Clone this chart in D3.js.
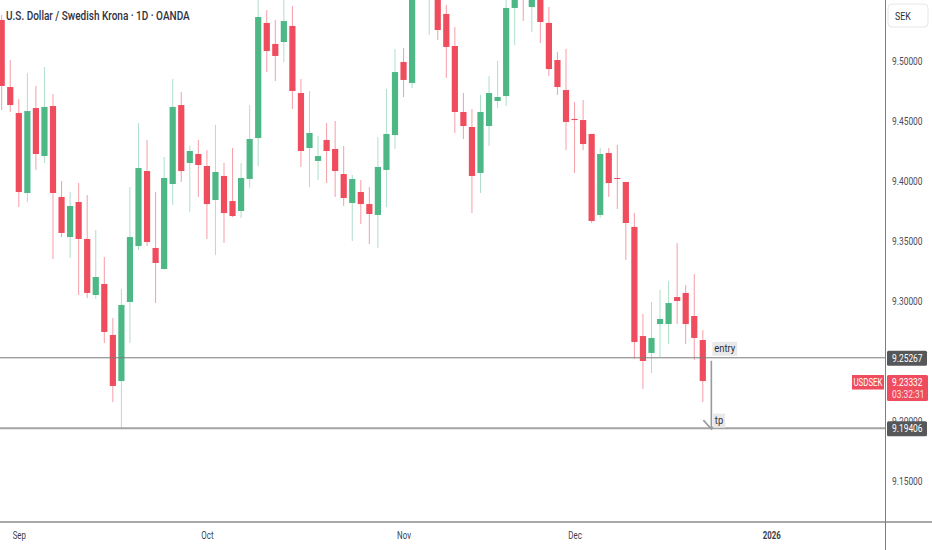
<!DOCTYPE html>
<html>
<head>
<meta charset="utf-8">
<script src="https://cdn.jsdelivr.net/npm/d3@7"></script>
<style>
  html, body { margin: 0; padding: 0; background: #fff; }
  svg { display: block; font-family: Roboto, "Noto Sans", sans-serif; }
</style>
</head>
<body>
<svg id="chart" width="932" height="550"></svg>
<script>
// USDSEK daily, OANDA - weekdays from 28 Aug to 22 Dec 2025
var firstDay = "2025-08-28";
var lastDay = "2025-12-22";

var openP = [
  9.5342, 9.4783, 9.4567, 9.3900, 9.4608, 9.4208, 9.4625, 9.3867, 9.3533, 9.3825,
  9.3517, 9.3050, 9.3142, 9.2717, 9.2333, 9.2992, 9.3458, 9.4083, 9.3442, 9.3267,
  9.3975, 9.4633, 9.4150, 9.4225, 9.4125, 9.3842, 9.4042, 9.3833, 9.3750, 9.4017,
  9.4358, 9.5317, 9.5142, 9.5158, 9.5292, 9.4733, 9.4275, 9.4167, 9.4342, 9.4267,
  9.4058, 9.3817, 9.3908, 9.3808, 9.3717, 9.4092, 9.4383, 9.4992, 9.4817, 9.5592,
  9.5550, 9.5575, 9.5392, 9.5125, 9.4575, 9.4450, 9.4067, 9.4458, 9.4667, 9.4708,
  9.5442, 9.5675, 9.5450, 9.5533, 9.5317, 9.5008, 9.4758, 9.4517, 9.4508, 9.4392,
  9.3717, 9.4233, 9.4025, 9.3992, 9.3617, 9.2708, 9.2567, 9.2808, 9.2808, 9.3033,
  9.3067, 9.2875, 9.2675
];
var highP = [
  9.5383, 9.5008, 9.4683, 9.4900, 9.4792, 9.4950, 9.4725, 9.4000, 9.3908, 9.3983,
  9.3883, 9.3592, 9.3367, 9.2858, 9.3100, 9.3950, 9.4483, 9.4342, 9.3908, 9.4200,
  9.4850, 9.4742, 9.4292, 9.4342, 9.4258, 9.4467, 9.4150, 9.4275, 9.4150, 9.4633,
  9.5550, 9.5425, 9.5342, 9.5533, 9.5458, 9.4850, 9.4750, 9.4375, 9.4483, 9.4500,
  9.4292, 9.4050, 9.4008, 9.3950, 9.4367, 9.4767, 9.5100, 9.5108, 9.5675, 9.5883,
  9.5842, 9.5633, 9.5467, 9.5283, 9.4733, 9.4600, 9.4717, 9.4875, 9.5000, 9.5525,
  9.5633, 9.5717, 9.5608, 9.5592, 9.5450, 9.5075, 9.5100, 9.4658, 9.4675, 9.4392,
  9.4275, 9.4275, 9.4300, 9.3992, 9.3733, 9.2892, 9.2992, 9.3092, 9.3167, 9.3483,
  9.3133, 9.3225, 9.2758
];
var lowP = [
  9.4592, 9.4575, 9.3783, 9.3825, 9.4092, 9.4150, 9.3350, 9.3533, 9.3358, 9.3050,
  9.3025, 9.3017, 9.2650, 9.2158, 9.1941, 9.2650, 9.3425, 9.3458, 9.2983, 9.3260,
  9.3800, 9.3992, 9.3742, 9.3867, 9.3517, 9.3383, 9.3483, 9.3700, 9.3692, 9.3942,
  9.4125, 9.4908, 9.4833, 9.4992, 9.4600, 9.4117, 9.3950, 9.4008, 9.3983, 9.3867,
  9.3792, 9.3500, 9.3642, 9.3475, 9.3442, 9.3783, 9.4267, 9.4700, 9.4775, 9.5533,
  9.5217, 9.5175, 9.4858, 9.4400, 9.4350, 9.3733, 9.3900, 9.4292, 9.4608, 9.4625,
  9.5133, 9.5333, 9.5242, 9.5150, 9.4875, 9.4717, 9.4258, 9.4067, 9.4258, 9.3650,
  9.3692, 9.3867, 9.3767, 9.3342, 9.2517, 9.2267, 9.2400, 9.2533, 9.2642, 9.2808,
  9.2642, 9.2508, 9.2158
];
var closeP = [
  9.4792, 9.4633, 9.3908, 9.4583, 9.4225, 9.4617, 9.3900, 9.3567, 9.3792, 9.3517,
  9.3067, 9.3200, 9.2742, 9.2292, 9.2967, 9.3533, 9.4108, 9.3492, 9.3317, 9.4025,
  9.4617, 9.4083, 9.4250, 9.4133, 9.3808, 9.4075, 9.3733, 9.3708, 9.4025, 9.4350,
  9.5367, 9.5083, 9.5042, 9.5333, 9.4750, 9.4250, 9.4400, 9.4208, 9.4250, 9.4083,
  9.3858, 9.4017, 9.3808, 9.3725, 9.4117, 9.4392, 9.4908, 9.4842, 9.5592, 9.5758,
  9.5717, 9.5258, 9.5117, 9.4575, 9.4458, 9.4042, 9.4575, 9.4733, 9.4700, 9.5442,
  9.5575, 9.5525, 9.5550, 9.5325, 9.4933, 9.4783, 9.4492, 9.4508, 9.4308, 9.3667,
  9.4225, 9.3983, 9.4020, 9.3650, 9.2658, 9.2500, 9.2692, 9.2850, 9.2983, 9.3000,
  9.2808, 9.2692, 9.23332
];

// axis labels (9.25 sits under the entry label, so it is left out)
var priceTicks = [9.15, 9.20, 9.30, 9.35, 9.40, 9.45, 9.50];
var timeTickDates = ["2025-09-01", "2025-10-01", "2025-11-03", "2025-12-01", "2026-01-01"];
var timeTickLabels = ["Sep", "Oct", "Nov", "Dec", "2026"];

// drawn levels
var entryPrice = 9.25267;
var tpPrice = 9.19406;
var symbol = "USDSEK";
var countdown = "03:32:31";
var title = "U.S. Dollar / Swedish Krona \u00b7 1D \u00b7 OANDA";

var upColor = "#4db886";
var downColor = "#ef4d5e";

var svgWidth = 932;
var svgHeight = 550;
var plotRight = 885;
var plotBottom = 522;

var parseDay = d3.utcParse("%Y-%m-%d");

// index a date by the number of weekdays since the first bar
function dayIndex(d) {
  var n = d3.utcDay.range(parseDay(firstDay), d)
    .filter(function(x) { return x.getUTCDay() % 6 !== 0; }).length;
  return n;
}

var days = d3.utcDay.range(parseDay(firstDay), d3.utcDay.offset(parseDay(lastDay), 1))
  .filter(function(d) { return d.getUTCDay() % 6 !== 0; });

var candles = days.map(function(d, i) {
  return { date: d, o: openP[i], h: highP[i], l: lowP[i], c: closeP[i] };
});

var xScale = d3.scaleLinear().domain([0, 90]).range([1.7, 771.2]);
var yScale = d3.scaleLinear().domain([9.15, 9.50]).range([481, 61]);
var barW = 6.2;

var svg = d3.select("#chart");

// squeeze text horizontally (chart font is a narrow one)
function squeeze(sel, k) {
  sel.each(function() {
    var len = this.getComputedTextLength();
    d3.select(this).attr("textLength", len * k).attr("lengthAdjust", "spacingAndGlyphs");
  });
}

svg.append("defs").append("clipPath").attr("id", "plotClip")
  .append("rect").attr("x", 0).attr("y", 0).attr("width", plotRight).attr("height", plotBottom);

var plot = svg.append("g").attr("clip-path", "url(#plotClip)");

// candles
var candleG = plot.selectAll("g.candle")
  .data(candles)
  .enter()
  .append("g")
  .attr("class", "candle");

candleG.append("line")
  .attr("x1", function(d) { return xScale(dayIndex(d.date)); })
  .attr("x2", function(d) { return xScale(dayIndex(d.date)); })
  .attr("y1", function(d) { return yScale(d.h); })
  .attr("y2", function(d) { return yScale(d.l); })
  .attr("stroke", function(d) { return d.c >= d.o ? upColor : downColor; })
  .attr("stroke-opacity", function(d) { return d.c >= d.o ? 0.45 : 0.55; })
  .attr("stroke-width", 1);

candleG.append("rect")
  .attr("x", function(d) { return xScale(dayIndex(d.date)) - barW / 2; })
  .attr("y", function(d) { return yScale(Math.max(d.o, d.c)); })
  .attr("width", barW)
  .attr("height", function(d) { return Math.max(1, Math.abs(yScale(d.o) - yScale(d.c))); })
  .attr("fill", function(d) { return d.c >= d.o ? upColor : downColor; });

// entry / tp horizontal lines
plot.append("line")
  .attr("x1", 0).attr("x2", plotRight)
  .attr("y1", yScale(entryPrice)).attr("y2", yScale(entryPrice))
  .attr("stroke", "#7b7b7b").attr("stroke-width", 1);

plot.append("line")
  .attr("x1", 0).attr("x2", plotRight)
  .attr("y1", yScale(tpPrice)).attr("y2", yScale(tpPrice))
  .attr("stroke", "#a3a3a3").attr("stroke-width", 2);

// arrow from entry down to tp, just right of the last bar
var arrowX = xScale(dayIndex(days[days.length - 1]) + 1);
var arrowTop = yScale(entryPrice) + 3;
var arrowBot = yScale(tpPrice) + 1;
plot.append("path")
  .attr("d", "M" + arrowX + "," + arrowTop + "V" + arrowBot +
    "M" + (arrowX - 8) + "," + (arrowBot - 9) + "L" + arrowX + "," + arrowBot +
    "L" + (arrowX + 8) + "," + (arrowBot - 9))
  .attr("fill", "none").attr("stroke", "#9a9a9a").attr("stroke-width", 1.6);

// text labels on the drawing
function tagLabel(txt, x, yBottom) {
  var g = plot.append("g");
  var t = g.append("text")
    .attr("x", x + 2).attr("y", yBottom - 3.5)
    .attr("font-size", 11).attr("fill", "#2a2e39")
    .text(txt);
  squeeze(t, 0.85);
  var tl = +t.attr("textLength");
  g.insert("rect", "text")
    .attr("x", x).attr("y", yBottom - 14)
    .attr("width", tl + 4).attr("height", 14)
    .attr("fill", "#e9e9ea");
}
tagLabel("entry", arrowX + 1, yScale(entryPrice) - 2);
tagLabel("tp", arrowX + 1.5, yScale(tpPrice) - 0.5);

// title
var titleText = svg.append("text")
  .attr("x", 6).attr("y", 20)
  .attr("font-size", 12.5).attr("font-weight", 500).attr("fill", "#2f3241")
  .text(title);
squeeze(titleText, 0.8);

// right price scale
var yAxis = svg.append("g")
  .attr("transform", "translate(" + plotRight + ",0)")
  .call(d3.axisRight(yScale).tickValues(priceTicks).tickFormat(d3.format(".5f")).tickSize(0).tickPadding(7));
yAxis.select(".domain").remove();
yAxis.selectAll("text")
  .attr("font-size", 10.5).attr("fill", "#4a4d57").attr("font-family", "Roboto, sans-serif");
squeeze(yAxis.selectAll("text"), 0.8);

// bottom time scale
var xAxis = svg.append("g")
  .attr("transform", "translate(0," + plotBottom + ")")
  .call(d3.axisBottom(xScale)
    .tickValues(timeTickDates.map(function(s) { return dayIndex(parseDay(s)); }))
    .tickFormat(function(d, i) { return timeTickLabels[i]; })
    .tickSize(0).tickPadding(10));
xAxis.select(".domain").remove();
xAxis.selectAll("text")
  .attr("font-size", 10.5).attr("fill", "#3b3e49").attr("font-family", "Roboto, sans-serif")
  .attr("font-weight", function(d, i) { return timeTickLabels[i] === "2026" ? 700 : 400; });
squeeze(xAxis.selectAll("text"), 0.75);

// separators
svg.append("line")
  .attr("x1", 0).attr("x2", svgWidth).attr("y1", plotBottom).attr("y2", plotBottom)
  .attr("stroke", "#8c8c8c").attr("stroke-width", 1.5);
svg.append("line")
  .attr("x1", plotRight + 0.5).attr("x2", plotRight + 0.5).attr("y1", 0).attr("y2", svgHeight)
  .attr("stroke", "#7e7e7e").attr("stroke-width", 1);

// currency box
svg.append("rect")
  .attr("x", 888).attr("y", 4).attr("width", 40).attr("height", 23).attr("rx", 4)
  .attr("fill", "#fff").attr("stroke", "#e4e6eb");
var sek = svg.append("text")
  .attr("x", 895).attr("y", 19.5)
  .attr("font-size", 11).attr("fill", "#2a2e39")
  .text("SEK");
squeeze(sek, 0.8);

// price label boxes on the scale
function scaleBox(price, fill) {
  var yy = yScale(price) + 0.5;
  svg.append("rect")
    .attr("x", 887).attr("y", yy - 7.5).attr("width", 40).attr("height", 15).attr("rx", 1.5)
    .attr("fill", fill);
  var t = svg.append("text")
    .attr("x", 892).attr("y", yy + 3.8)
    .attr("font-size", 10.5).attr("fill", "#fff")
    .text(d3.format(".5f")(price));
  squeeze(t, 0.8);
}
scaleBox(entryPrice, "#555759");
scaleBox(tpPrice, "#555759");

// last price
var lastClose = closeP[closeP.length - 1];
var ly = yScale(lastClose) + 1;
svg.append("rect")
  .attr("x", 852).attr("y", ly - 7).attr("width", 32).attr("height", 14.5)
  .attr("fill", downColor);
var symText = svg.append("text")
  .attr("x", 868).attr("y", ly + 3.8).attr("text-anchor", "middle")
  .attr("font-size", 10.5).attr("fill", "#fff")
  .text(symbol);
squeeze(symText, 0.75);
svg.append("rect")
  .attr("x", 887).attr("y", ly - 7).attr("width", 41).attr("height", 26).attr("rx", 1.5)
  .attr("fill", downColor);
var lastText = svg.append("text")
  .attr("x", 892).attr("y", ly + 3.8)
  .attr("font-size", 10.5).attr("fill", "#fff")
  .text(d3.format(".5f")(lastClose));
squeeze(lastText, 0.8);
var cdText = svg.append("text")
  .attr("x", 892).attr("y", ly + 15.5)
  .attr("font-size", 10.5).attr("fill", "#fff").attr("fill-opacity", 0.85)
  .text(countdown);
squeeze(cdText, 0.8);
</script>
</body>
</html>
